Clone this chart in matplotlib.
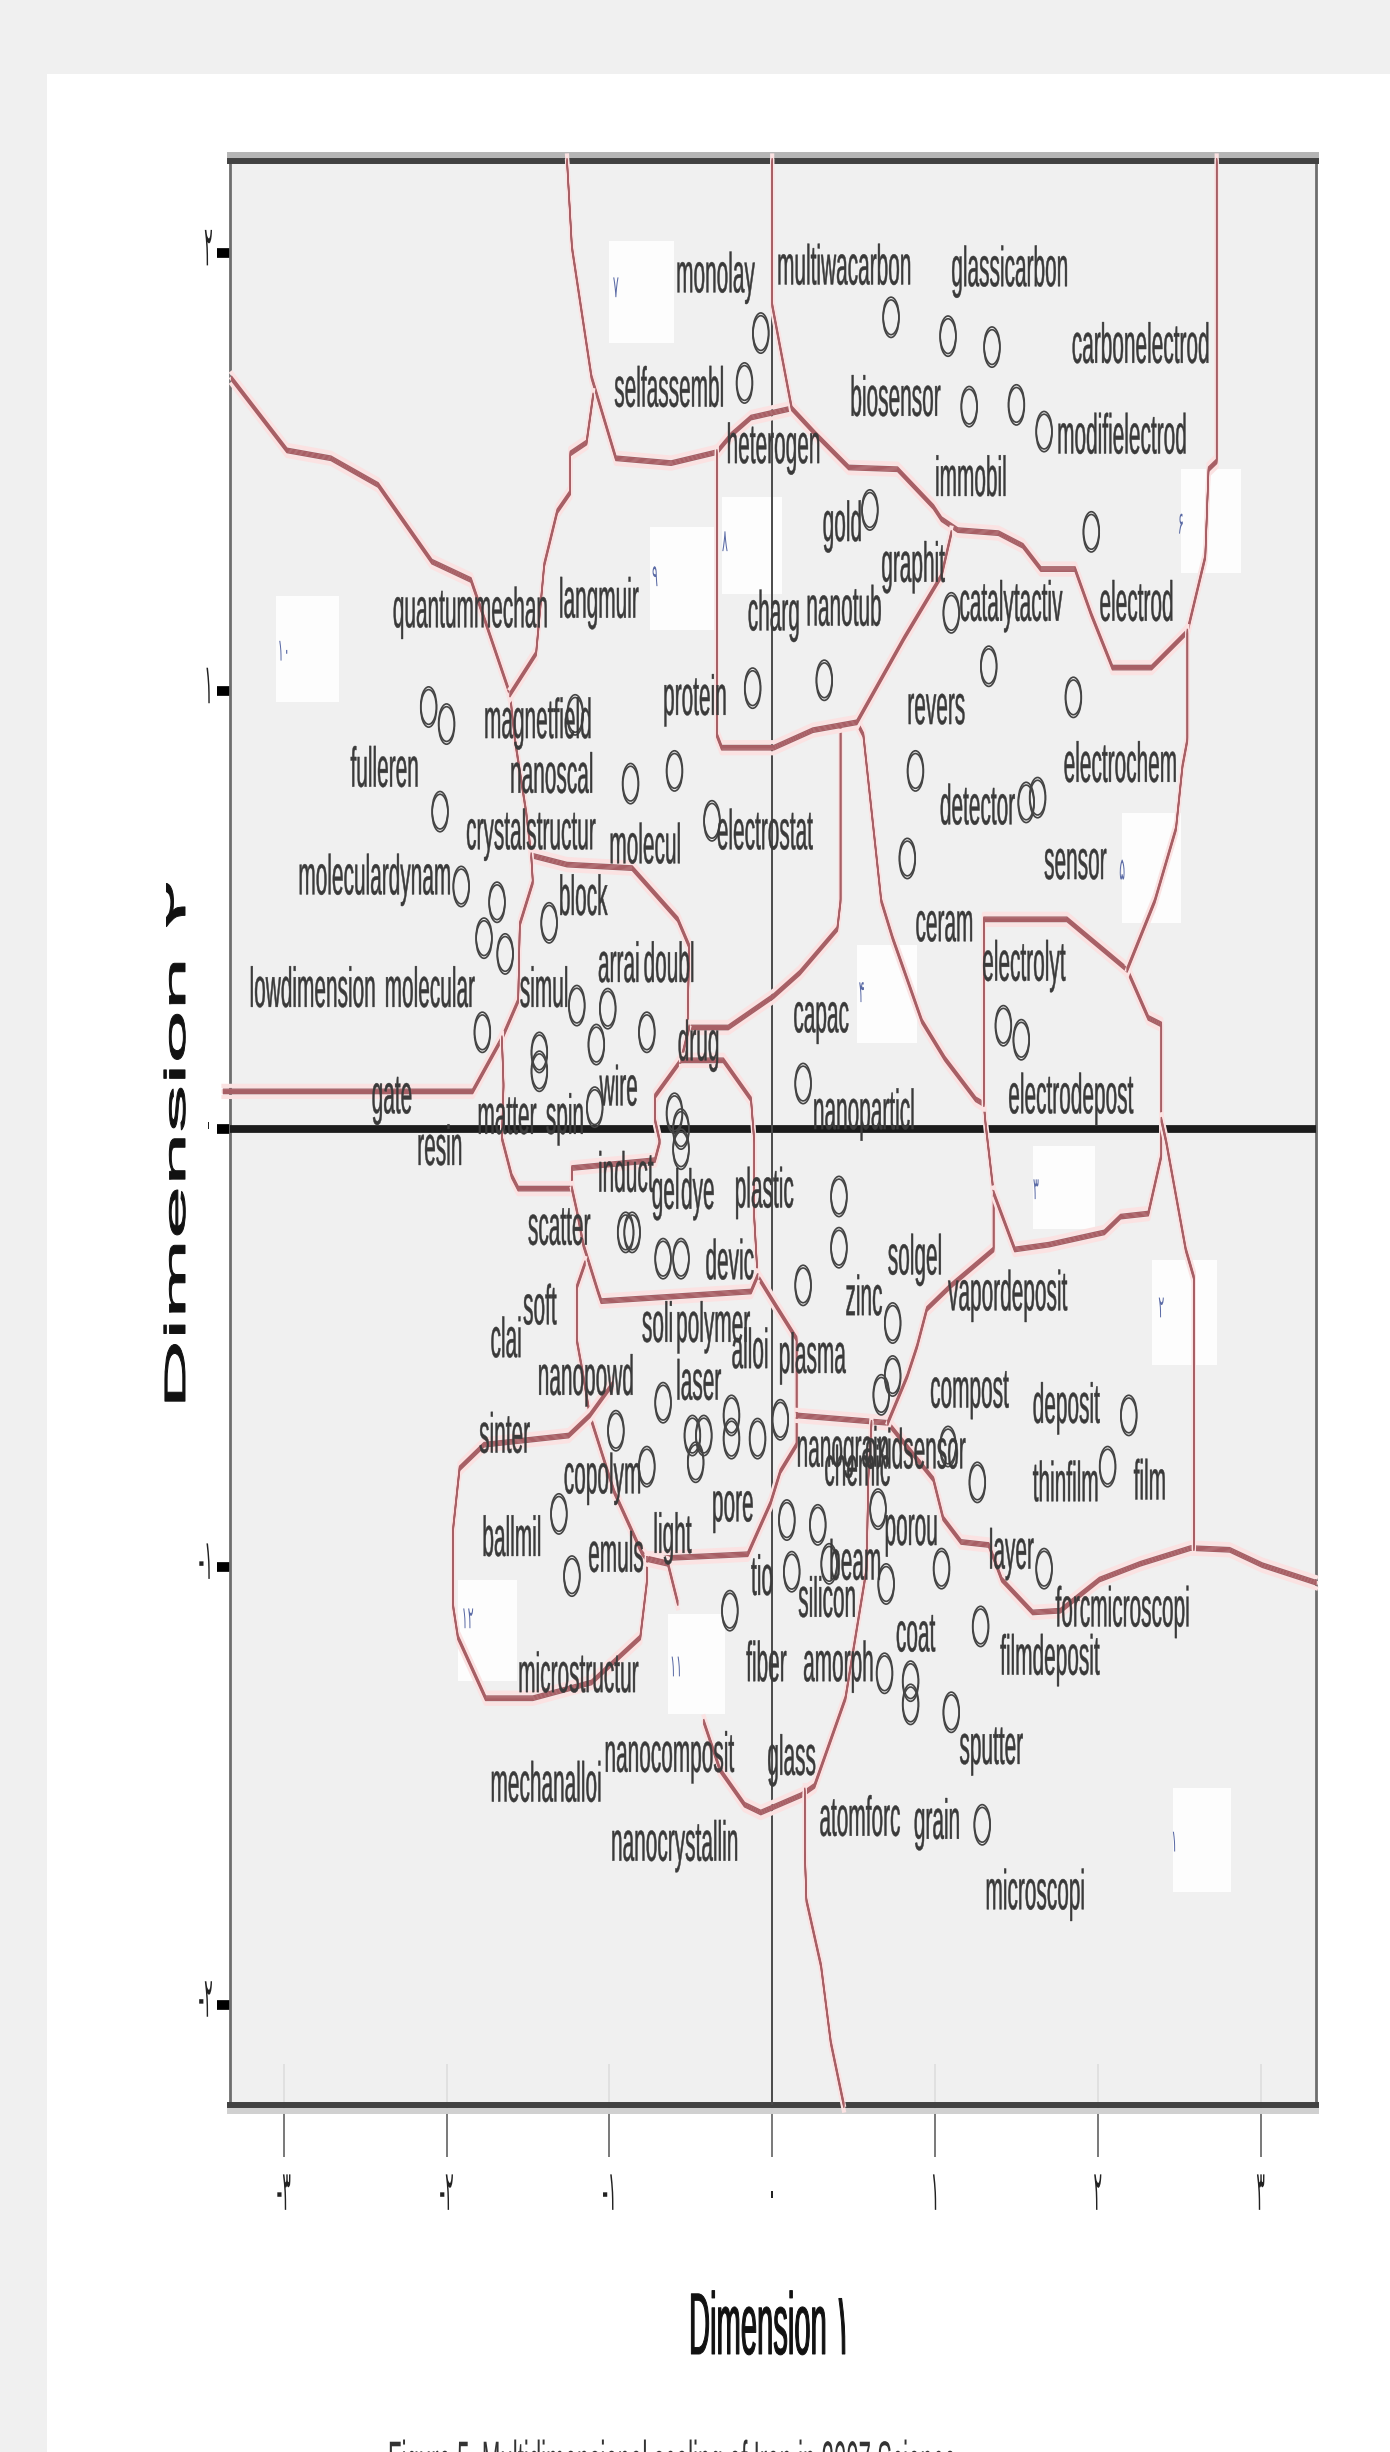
import matplotlib
matplotlib.use("Agg")
import matplotlib.pyplot as plt
import matplotlib.patheffects as pe
from matplotlib.path import Path
from matplotlib.patches import Rectangle
from matplotlib.transforms import Affine2D, ScaledTranslation

plt.rcParams['font.family'] = ['Liberation Sans', 'DejaVu Sans']

# Data: keyword points (open circles)
point_x = [-0.07, -0.17, 0.73, 1.08, 1.35, 1.21, 1.50, 1.96, 1.10, 1.33, 1.85, -0.12, 0.32, 0.88, 0.83, -0.60,
           -0.87, -2.11, -2.00, -1.21, -2.04, -1.91, -1.69, -1.77, -1.64, -1.78, -1.37, -1.20, -1.01, -1.08,
           -0.77, -1.43, -1.43, -1.09, -0.60, -0.56, -0.56, 1.42, 1.53, 0.19, 0.41, 0.41, 0.19, 0.74, 0.74,
           0.67, -0.90, -0.86, -0.67, -0.56, -0.96, -0.67, -0.49, -0.42, -0.25, -0.25, -0.09, 0.05, -0.77,
           -0.47, -1.31, -1.23, 0.09, 0.28, 0.65, 1.08, 1.26, 1.04, 1.67, 2.06, 2.19, 0.12, 0.70, 0.35, 1.28,
           0.69, 0.85, 0.85, 1.10, 1.29, -0.26, 0.60, 1.67, -0.37, 1.56, 1.63]
point_y = [1.818, 1.704, 1.854, 1.811, 1.786, 1.650, 1.654, 1.364, 1.179, 1.057, 0.986, 1.007, 1.025, 0.818,
           0.618, 0.818, 0.789, 0.964, 0.925, 0.946, 0.725, 0.554, 0.518, 0.436, 0.400, 0.221, 0.471, 0.282,
           0.275, 0.193, 0.221, 0.175, 0.132, 0.050, 0.036, 0.000, -0.046, 0.236, 0.204, 0.104, -0.154, -0.271,
           -0.357, -0.443, -0.564, -0.607, -0.236, -0.236, -0.296, -0.296, -0.689, -0.625, -0.700, -0.700,
           -0.654, -0.707, -0.707, -0.664, -0.771, -0.761, -0.879, -1.021, -0.893, -0.904, -0.868, -0.725,
           -0.807, -1.004, -1.004, -0.771, -0.654, -1.011, -1.039, -0.993, -1.136, -1.243, -1.261, -1.314,
           -1.332, -1.589, -1.100, 1.414, 1.593, 0.704, 0.746, 0.757]

# Data: keyword labels (left end, baseline)
label_text = ["monolay", "multiwacarbon", "glassicarbon", "carbonelectrod", "selfassembl", "biosensor",
              "modifielectrod", "heterogen", "immobil", "gold", "graphit", "catalytactiv", "electrod", "charg",
              "nanotub", "quantummechan", "langmuir", "protein", "revers", "magnetfield", "electrochem",
              "fulleren", "nanoscal", "detector", "electrostat", "crystalstructur", "molecul", "sensor",
              "moleculardynam", "block", "ceram", "electrolyt", "arrai", "doubl", "simul", "lowdimension",
              "molecular", "capac", "drug", "wire", "gate", "electrodepost", "matter", "spin", "nanoparticl",
              "resin", "induct", "gel", "dye", "plastic", "scatter", "devic", "solgel", "soft", "soli", "polymer",
              "zinc", "vapordeposit", "clai", "plasma", "alloi", "nanopowd", "laser", "compost", "deposit",
              "sinter", "nanograin", "oxidsensor", "chemic", "thinfilm", "film", "copolym", "pore", "porou",
              "ballmil", "emuls", "light", "beam", "layer", "forcmicroscopi", "tio", "silicon", "coat",
              "microstructur", "filmdeposit", "fiber", "amorph", "sputter", "nanocomposit", "glass",
              "mechanalloi", "atomforc", "grain", "nanocrystallin", "microscopi"]
label_x = [-0.59, 0.03, 1.10, 1.84, -0.97, 0.48, 1.75, -0.28, 1.00, 0.31, 0.67, 1.15, 2.01, -0.15, 0.21, -2.33,
           -1.31, -0.67, 0.83, -1.77, 1.79, -2.59, -1.61, 1.03, -0.34, -1.88, -1.00, 1.67, -2.91, -1.31, 0.88,
           1.29, -1.07, -0.79, -1.55, -3.21, -2.38, 0.13, -0.58, -1.06, -2.46, 1.45, -1.81, -1.39, 0.25, -2.18,
           -1.07, -0.74, -0.56, -0.23, -1.50, -0.41, 0.71, -1.53, -0.80, -0.59, 0.45, 1.08, -1.73, 0.04, -0.25,
           -1.44, -0.59, 0.97, 1.60, -1.80, 0.15, 0.57, 0.32, 1.60, 2.22, -1.28, -0.37, 0.69, -1.78, -1.13, -0.73,
           0.35, 1.33, 1.74, -0.13, 0.16, 0.76, -1.56, 1.40, -0.16, 0.19, 1.15, -1.03, -0.03, -1.73, 0.29, 0.87,
           -0.99, 1.31]
label_y = [1.911, 1.929, 1.925, 1.750, 1.650, 1.629, 1.543, 1.521, 1.446, 1.343, 1.250, 1.161, 1.161, 1.139,
           1.150, 1.146, 1.168, 0.946, 0.925, 0.893, 0.793, 0.782, 0.768, 0.696, 0.639, 0.639, 0.607, 0.571,
           0.536, 0.489, 0.429, 0.339, 0.336, 0.336, 0.279, 0.279, 0.279, 0.221, 0.157, 0.054, 0.036, 0.036,
           -0.011, -0.011, 0.000, -0.082, -0.143, -0.182, -0.182, -0.179, -0.264, -0.343, -0.332, -0.446, -0.486,
           -0.486, -0.425, -0.414, -0.521, -0.557, -0.546, -0.607, -0.618, -0.636, -0.671, -0.739, -0.771, -0.775,
           -0.814, -0.850, -0.846, -0.832, -0.896, -0.950, -0.975, -1.011, -0.968, -1.029, -1.004, -1.136, -1.064,
           -1.114, -1.193, -1.286, -1.246, -1.261, -1.261, -1.450, -1.468, -1.475, -1.536, -1.614, -1.621, -1.671,
           -1.782]

# Data: cluster boundaries
boundaries = [
    ([-1.26, -1.23, -1.11, -0.96, -0.62, -0.34, -0.25, -0.13, 0.12],
     [2.211, 2.014, 1.718, 1.532, 1.521, 1.546, 1.586, 1.625, 1.646]),
    ([0.00, 0.00, 0.12, 0.27, 0.47, 0.77, 0.99, 1.04, 1.14, 1.39, 1.54, 1.65, 1.86, 1.96, 2.09, 2.33, 2.55, 2.66,
      2.68, 2.73, 2.73],
     [2.211, 1.882, 1.646, 1.586, 1.511, 1.507, 1.421, 1.393, 1.368, 1.361, 1.332, 1.279, 1.279, 1.175, 1.054,
      1.054, 1.136, 1.307, 1.507, 1.525, 2.211]),
    ([-3.32, -2.98, -2.71, -2.42, -2.09, -1.85, -1.76, -1.61, -1.58, -1.51, -1.48],
     [1.714, 1.550, 1.532, 1.471, 1.296, 1.254, 1.157, 0.993, 0.889, 0.721, 0.625]),
    ([-1.61, -1.45, -1.40, -1.32, -1.24, -1.24, -1.14, -1.10],
     [0.993, 1.086, 1.289, 1.411, 1.454, 1.543, 1.568, 1.675]),
    ([-1.48, -1.26, -0.86, -0.58, -0.51, -0.52, -0.27, 0.01, 0.17, 0.40, 0.42, 0.42],
     [0.625, 0.604, 0.596, 0.479, 0.418, 0.232, 0.232, 0.304, 0.357, 0.457, 0.521, 0.918]),
    ([-1.48, -1.47, -1.55, -1.56, -1.66, -1.84, -3.37],
     [0.625, 0.564, 0.468, 0.293, 0.207, 0.086, 0.086]),
    ([-1.66, -1.65, -1.66, -1.60, -1.56, -1.23, -1.23, -0.72, -0.69, -0.72, -0.72, -0.56, -0.51],
     [0.207, 0.100, -0.021, -0.107, -0.136, -0.136, -0.089, -0.071, -0.029, 0.021, 0.075, 0.157, 0.232]),
    ([-0.56, -0.30, -0.13, -0.11, -0.11, -0.09, 0.01, 0.15, 0.15, 0.15, 0.05, -0.01, -0.15, -0.77],
     [0.157, 0.157, 0.068, -0.029, -0.204, -0.336, -0.396, -0.479, -0.654, -0.721, -0.782, -0.854, -0.971, -0.982]),
    ([-1.23, -1.20, -1.16, -1.07, -1.05, -0.13, -0.09],
     [-0.136, -0.186, -0.264, -0.371, -0.393, -0.371, -0.336]),
    ([-1.15, -1.20, -1.20, -1.16, -1.12, -0.97, -0.80, -0.77],
     [-0.307, -0.361, -0.482, -0.564, -0.654, -0.829, -0.968, -0.982]),
    ([-0.98, -1.12, -1.25, -1.77, -1.92, -1.96, -1.96, -1.93, -1.76, -1.47, -1.11, -0.81, -0.77, -0.77],
     [-0.582, -0.654, -0.700, -0.721, -0.775, -0.914, -1.089, -1.161, -1.300, -1.300, -1.264, -1.161, -1.036, -0.982]),
    ([-0.77, -0.64, -0.58],
     [-0.982, -0.993, -1.082]),
    ([0.15, 0.71, 0.99, 1.05, 1.16, 1.33, 1.41, 1.60, 1.77, 2.01, 2.26, 2.57, 2.81, 3.01, 3.34],
     [-0.654, -0.671, -0.800, -0.889, -0.943, -0.950, -1.029, -1.104, -1.100, -1.029, -0.993, -0.957, -0.961,
      -0.996, -1.036]),
    ([0.71, 0.83, 0.89, 0.95, 1.10, 1.36, 1.36, 1.31, 1.30, 1.25, 1.06, 0.92, 0.74, 0.67, 0.56, 0.52],
     [-0.671, -0.564, -0.496, -0.411, -0.357, -0.275, -0.146, 0.014, 0.057, 0.068, 0.161, 0.246, 0.436, 0.521,
      0.900, 0.929]),
    ([-0.34, -0.34, -0.31, 0.01, 0.25, 0.52, 0.81, 1.04, 1.10],
     [1.546, 0.900, 0.871, 0.871, 0.911, 0.929, 1.121, 1.264, 1.361]),
    ([1.30, 1.30, 1.81, 2.18, 2.31, 2.39, 2.39, 2.39, 2.31, 2.14, 2.04, 1.70, 1.49, 1.36],
     [0.057, 0.479, 0.479, 0.364, 0.254, 0.239, 0.021, -0.061, -0.193, -0.200, -0.236, -0.264, -0.275, -0.146]),
    ([2.55, 2.55, 2.52, 2.48, 2.35, 2.18],
     [1.136, 0.889, 0.829, 0.686, 0.521, 0.364]),
    ([2.39, 2.42, 2.54, 2.59, 2.59],
     [0.021, -0.029, -0.275, -0.339, -0.957]),
    ([0.61, 0.59, 0.58, 0.45, 0.26, 0.18, -0.07, -0.17, -0.32, -0.42],
     [-0.671, -0.800, -1.004, -1.300, -1.500, -1.521, -1.561, -1.543, -1.464, -1.354]),
    ([0.20, 0.20, 0.21, 0.30, 0.36, 0.44],
     [-1.511, -1.646, -1.761, -1.911, -2.086, -2.229]),
]

# Data: white cluster-number boxes and their numbers
box_left = [-1.00, -0.75, -0.31, -3.05, 2.51, 2.15, 0.52, 1.60, 2.33, -1.93, -0.64, 2.46]
box_right = [-0.60, -0.36, 0.06, -2.66, 2.88, 2.51, 0.89, 1.98, 2.73, -1.57, -0.29, 2.82]
box_top = [2.029, 1.375, 1.443, 1.218, 1.507, 0.721, 0.421, -0.039, -0.300, -1.029, -1.107, -1.504]
box_bottom = [1.796, 1.139, 1.221, 0.975, 1.271, 0.471, 0.196, -0.229, -0.539, -1.261, -1.336, -1.743]
number_text = ["۷", "۹", "۸", "۱۰", "۶", "۵", "۴", "۳", "۲", "۱۲", "۱۱", "۱"]
number_x = [-0.96, -0.72, -0.29, -3.00, 2.51, 2.15, 0.55, 1.62, 2.39, -1.87, -0.59, 2.47]
number_y = [1.90, 1.24, 1.32, 1.07, 1.36, 0.57, 0.29, -0.16, -0.43, -1.14, -1.25, -1.65]

# Data: axis ticks
x_ticks = [-3, -2, -1, 0, 1, 2, 3]
x_tick_labels = ["-۳", "-۲", "-۱", "۰", "۱", "۲", "۳"]
y_ticks = [2, 1, 0, -1, -2]
y_tick_labels = ["۲", "۱", "۰", "-۱", "-۲"]


class Stretch(pe.AbstractPathEffect):
    # the scan is stretched unevenly, so glyphs get scaled in their own coordinates
    def __init__(self, sx=1.0, sy=1.0, heavy=0.0):
        super().__init__()
        self.sx = sx
        self.sy = sy
        self.heavy = heavy

    def draw_path(self, renderer, gc, tpath, affine, rgbFace=None):
        gc0 = renderer.new_gc()
        gc0.copy_properties(gc)
        gc0.set_linewidth(self.heavy)
        renderer.draw_path(gc0, tpath, Affine2D().scale(self.sx, self.sy) + affine, rgbFace)
        gc0.restore()


W, H = 1390, 2452
fig = plt.figure(figsize=(W / 100, H / 100), dpi=100, facecolor="#f0f0f0")

# White page card inside the gray frame
fig.patches.append(Rectangle((47 / W, 0), 1, 1 - 74 / H, transform=fig.transFigure, facecolor="white",
                             edgecolor="none", zorder=-5))

ax = fig.add_axes([230 / W, 1 - 2105 / H, (1316 - 230) / W, (2105 - 161) / H], facecolor="#f0f0f0")
ax.set_xlim(-3.33, 3.34)
ax.set_ylim(-2.229, 2.211)

for l, r, t, b in zip(box_left, box_right, box_top, box_bottom):
    ax.add_patch(Rectangle((l, b), r - l, t - b, facecolor="#fdfdfd", edgecolor="none", zorder=1))
for s, x, y in zip(number_text, number_x, number_y):
    ax.text(x, y, s, fontsize=8, color="#5a6aa5", ha="center", va="baseline", zorder=2,
            path_effects=[Stretch(sy=2.8)])

# Reference lines
ax.axhline(0, color="#1c1c1c", linewidth=5.6, zorder=3)
ax.axvline(0, color="#4a4a4a", linewidth=1.4, zorder=3)

# Boundaries: a pen that is wide vertically, like the stretched original
halo = [pe.Stroke(linewidth=3.0, foreground="#fbe2e2", offset=(0, d)) for d in (-4, 0, 4)]
core = [pe.Stroke(linewidth=1.0, foreground="#a75f65", offset=(0, d)) for d in (-1.6, -0.8, 0, 0.8, 1.6)]
for bx, by in boundaries:
    ax.plot(bx, by, color="#a75f65", linewidth=1.0, clip_on=False, zorder=4, path_effects=halo + core)

# Points
ellipse = Path.unit_circle().transformed(Affine2D().scale(0.42, 1))
ax.plot(point_x, point_y, linestyle="", marker=ellipse, markersize=27, markerfacecolor="none",
        markeredgecolor="#444444", markeredgewidth=1.2, zorder=5,
        path_effects=[pe.Stroke(offset=(0, 1)), pe.Stroke(offset=(0, -1))])

# Keyword labels
for s, x, y in zip(label_text, label_x, label_y):
    ax.text(x, y, s, fontsize=15, color="#3a3a3a", ha="left", va="baseline", zorder=6,
            path_effects=[Stretch(sy=2.7, heavy=0.3)])

# Spines
for side in ("top", "bottom"):
    ax.spines[side].set_linewidth(4.3)
    ax.spines[side].set_color("#424242")
ax.spines["top"].set_path_effects([pe.Stroke(foreground="#b5b5b5", offset=(0, 4.5)), pe.Normal()])
ax.spines["bottom"].set_path_effects([pe.Stroke(foreground="#d0d0d0", offset=(0, -4.5)), pe.Normal()])
for side in ("left", "right"):
    ax.spines[side].set_linewidth(2)
    ax.spines[side].set_color("#6e6e6e")

# Ticks, with the faint inner part of the x ticks
ax.set_xticks(x_ticks)
ax.set_xticklabels(x_tick_labels, fontsize=11.5, color="#222222", va="baseline", family=['DejaVu Sans'])
ax.set_yticks(y_ticks)
ax.set_yticklabels(y_tick_labels, fontsize=11.5, color="#222222", va="baseline", family=['DejaVu Sans'])
ax.tick_params(axis="x", length=37.5, width=1.1, color="#555555", pad=38)
ax.tick_params(axis="y", length=9.4, width=7, color="black", pad=3)
ax.vlines([t for t in x_ticks if t != 0], -2.229, -2.135, color="#dcdcdc", linewidth=1.1, zorder=1)
y_shift = ScaledTranslation(0, -0.12, fig.dpi_scale_trans)
for lab in ax.get_xticklabels():
    lab.set_path_effects([Stretch(sy=3.5)])
for lab in ax.get_yticklabels():
    lab.set_path_effects([Stretch(sy=3.5)])
    lab.set_transform(lab.get_transform() + y_shift)

# Axis titles and caption, placed on the page
fig.text(689 / W, 1 - 2354 / H, "Dimension ۱", fontsize=21, color="#111111", ha="left", va="baseline",
         path_effects=[Stretch(sy=3.0, heavy=0.7)])
fig.text(185 / W, 1 - 1409 / H, "Dimension ۲", fontsize=21, color="#111111", rotation=90,
         rotation_mode="anchor", ha="left", va="baseline", path_effects=[Stretch(sx=3.28, heavy=0.7)])
fig.text(388 / W, 1 - 2483 / H, "Figure 5. Multidimensional scaling of Iran in 2007 Science", fontsize=16,
         color="#333333", ha="left", va="baseline", path_effects=[Stretch(sy=2.7)])

fig.savefig("out.png", dpi=100, facecolor=fig.get_facecolor())
